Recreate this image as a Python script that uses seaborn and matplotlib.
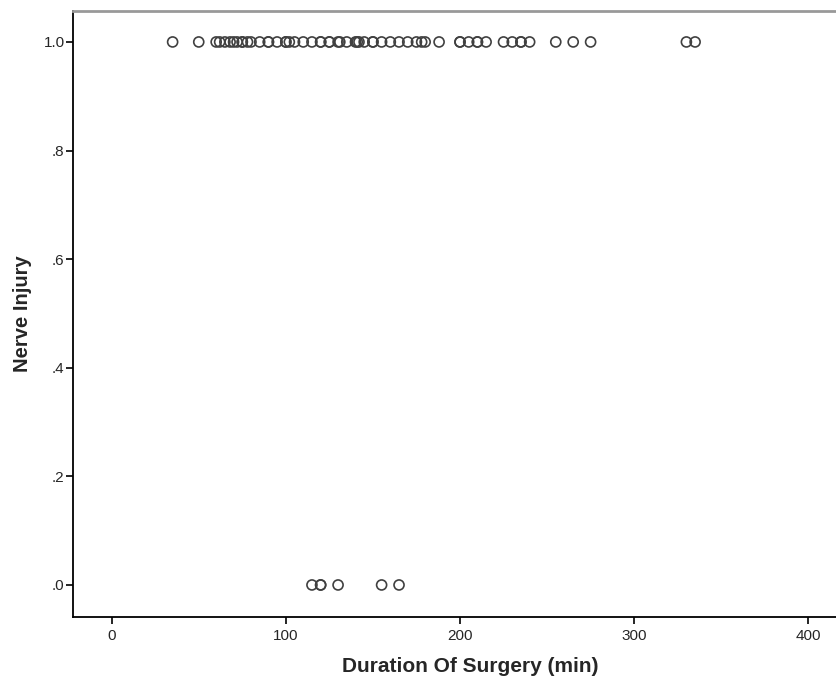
import pandas as pd
import matplotlib
matplotlib.use("Agg")
import matplotlib.pyplot as plt
import seaborn as sns

# durations (min) of patients with nerve injury = 1
injury_1 = [35, 50, 60, 62, 65, 68, 70, 72, 75, 75, 78, 80, 85, 90, 90, 95, 100, 100,
            102, 105, 110, 115, 120, 120, 125, 125, 130, 131, 135, 140, 141, 142, 145,
            150, 150, 155, 160, 165, 170, 175, 178, 180, 188, 200, 200, 205, 210, 210,
            215, 225, 230, 235, 235, 240, 255, 265, 275, 330, 335]
# durations (min) of patients with nerve injury = 0
injury_0 = [115, 120, 120, 130, 155, 165]

data = pd.DataFrame({
    "duration": injury_1 + injury_0,
    "nerve": [1.0] * len(injury_1) + [0.0] * len(injury_0),
})

sns.set_style("white")
plt.rcParams["font.family"] = ["Liberation Sans", "DejaVu Sans"]

fig = plt.figure(figsize=(8.37, 6.84), dpi=100)
ax = fig.add_axes([73 / 837, 67 / 684, 794 / 837, 606 / 684])

sns.scatterplot(data=data, x="duration", y="nerve", ax=ax, s=52,
                facecolor="none", edgecolor="#404040", linewidth=1.2, legend=False)

ax.set_xlim(-22.2, 433.7)
ax.set_ylim(-0.059, 1.057)
ax.set_xticks([0, 100, 200, 300, 400])
ax.set_yticks([0, 0.2, 0.4, 0.6, 0.8, 1.0])
ax.set_yticklabels([".0", ".2", ".4", ".6", ".8", "1.0"])
ax.tick_params(axis="both", direction="out", length=5, width=1.2, color="black",
               labelsize=11, bottom=True, left=True)
ax.tick_params(axis="x", pad=4)
ax.tick_params(axis="y", pad=1)

for side in ["left", "bottom"]:
    ax.spines[side].set_color("black")
    ax.spines[side].set_linewidth(1.3)
ax.spines["top"].set_color("#999999")
ax.spines["top"].set_linewidth(2)
ax.spines["right"].set_visible(False)

ax.set_xlabel("Duration Of Surgery (min)", fontsize=15, fontweight="bold", labelpad=10)
ax.set_ylabel("Nerve Injury", fontsize=14.5, fontweight="bold", labelpad=8)

fig.savefig("out.png", dpi=100)
